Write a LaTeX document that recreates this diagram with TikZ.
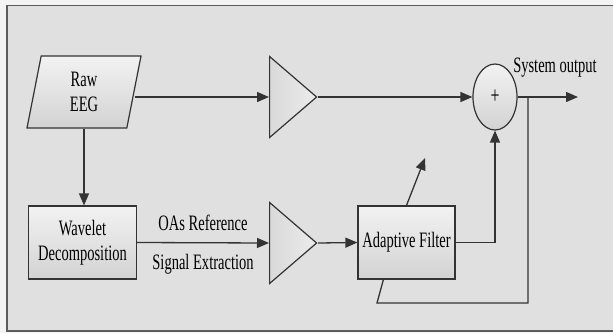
\documentclass[tikz,border=0pt]{standalone}
\usepackage{fontspec}
\setmainfont{Liberation Serif}[FakeStretch=0.66]
\usetikzlibrary{shapes.geometric,arrows.meta,calc}

\definecolor{panel}{HTML}{E0E0E0}
\definecolor{page}{HTML}{F4F4F4}
\definecolor{ink}{HTML}{333333}

\tikzset{
  blockfill/.style={top color=gray!10, bottom color=gray!35},
  block/.style={draw=ink, line width=1.2pt, blockfill, inner sep=2pt, align=center},
  amp/.style={isosceles triangle, isosceles triangle stretches, draw=ink, line width=1.2pt,
    left color=gray!30, right color=gray!15, minimum width=81pt, minimum height=47pt, inner sep=0pt},
  wire/.style={ink, line width=1.3pt},
}

\begin{document}
\begin{tikzpicture}[x=1pt, y=-1pt, >={Triangle[length=12pt,width=10pt]}, font=\fontsize{22}{25}\selectfont]
  \useasboundingbox (0,0) rectangle (613,333);
  \fill[page] (0,0) rectangle (613,333);
  \filldraw[fill=panel, draw=ink!80, line width=1.5pt] (7,5.5) rectangle (625,331);

  % blocks
  \node[block, trapezium, trapezium left angle=72, trapezium right angle=108, trapezium stretches body,
    minimum width=114pt, minimum height=72pt] (raw) at (84,92) {Raw\\EEG};
  \node[block, minimum width=108pt, minimum height=73pt] (wav) at (82.5,242.5) {Wavelet\\Decomposition};
  \node[amp, anchor=lower side] (amp1) at (269,97) {};
  \node[amp, anchor=lower side] (amp2) at (269,243) {};
  \node[block, minimum width=97pt, minimum height=73pt] (ad) at (406.5,242.5) {Adaptive Filter};
  \node[draw=ink, line width=1.2pt, ellipse, blockfill, minimum width=44pt, minimum height=66pt, inner sep=0pt]
    (sum) at (495,97) {\fontsize{24}{24}\selectfont +};

  % labels
  \node (lbl) at (555,68) {System output};
  \node (oas) at (203,223) {OAs Reference};
  \node (sig) at (203,264) {Signal Extraction};

  \coordinate (tap) at (528,97);
  \coordinate (end) at (578,97);
  \coordinate (fb) at (377,303);
  \coordinate (tip) at (425,158);

  % connectors
  \draw[wire,->] (raw.east |- amp1.lower side) -- (amp1.lower side);
  \draw[wire,->] (raw.south) -- (raw.south |- wav.north);
  \draw[wire,->] (wav.east) -- (amp2.lower side);
  \draw[wire,->] (amp1.apex) -- (sum.west);
  \draw[wire,->] (amp2.apex) -- (ad.west);
  \draw[wire,->] (ad.east) -| (sum.south);
  \draw[wire,->] (sum.east) -- (end);
  \draw[wire] (tap) -- (tap |- fb) -- (fb) -- ($(ad.south west)+(26,0)$);
  \draw[wire,->] (ad.north) -- (tip);
\end{tikzpicture}
\end{document}
